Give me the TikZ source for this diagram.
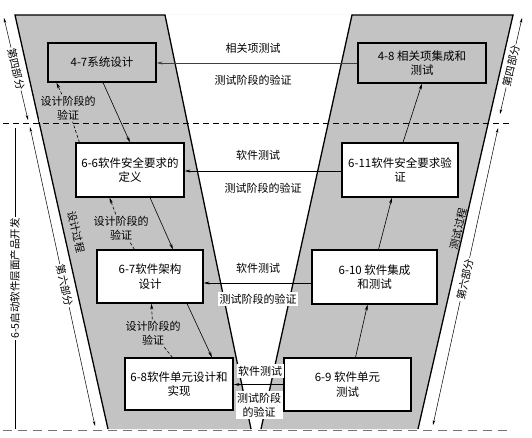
\documentclass[tikz,border=0pt]{standalone}
\usepackage{fontspec}
\setmainfont{Noto Sans CJK SC}
\usetikzlibrary{arrows.meta,calc}
\definecolor{vgray}{HTML}{C3C3C3}
\begin{document}
\begin{tikzpicture}[x=1pt,y=-1pt,
  box/.style={draw,line width=1.1pt,align=center,font=\fontsize{11.5}{14.5}\selectfont,inner sep=2pt},
  lbl/.style={align=center,font=\fontsize{11}{14}\selectfont,inner sep=1.5pt},
  slbl/.style={align=center,font=\fontsize{10.5}{12}\selectfont,inner sep=1pt},
  arr/.style={-{Stealth[length=6pt,width=3pt]},line width=0.6pt},
  varr/.style={arr,dash pattern=on 3pt off 2pt},
  vline/.style={line width=0.6pt,dash pattern=on 3pt off 2pt},
  dim/.style={{Stealth[length=5pt,width=2.5pt]}-{Stealth[length=5pt,width=2.5pt]},line width=0.5pt},
  vedge/.style={line width=1.3pt}]

\useasboundingbox (0,0) rectangle (532,438);
\fill[white] (0,0) rectangle (532,438);

% V shape
\fill[vgray] (15,15) -- (513,15) -- (418,429) -- (108,429) -- cycle;
\fill[white] (165,15) -- (352,15) -- (261,429) -- (251,429) -- cycle;
\draw[vedge] (108,429) -- (15,15) -- (165,15) -- (251,429);
\draw[vedge] (261,429) -- (352,15) -- (513,15) -- (418,429);

% boxes
\node[box,fill=vgray,minimum width=108pt,minimum height=39pt] (n47) at (102,62.5) {4-7系统设计};
\node[box,fill=vgray,minimum width=128pt,minimum height=40pt] (n48) at (422,63) {4-8 相关项集成和\\测试};
\node[box,fill=white,minimum width=108pt,minimum height=54pt] (n66) at (130,170) {6-6软件安全要求的\\定义};
\node[box,fill=white,minimum width=116pt,minimum height=54pt] (n611) at (400,170) {6-11软件安全要求验\\证};
\node[box,fill=white,minimum width=106pt,minimum height=53pt] (n67) at (150,276.5) {6-7软件架构\\设计};
\node[box,fill=white,minimum width=125pt,minimum height=54pt] (n610) at (374.5,277) {6-10 软件集成\\和测试};
\node[box,fill=white,minimum width=108pt,minimum height=52pt] (n68) at (179,384) {6-8软件单元设计和\\实现};
\node[box,fill=white,minimum width=127pt,minimum height=53pt] (n69) at (347.5,384.5) {6-9 软件单元\\测试};

% solid flow arrows
\draw[arr] ([xshift=1pt]n47.south) -- (n66.north);
\draw[arr] ([xshift=20pt]n66.south) -- ([xshift=23pt]n67.north);
\draw[arr] ([xshift=37pt]n67.south) -- ([xshift=33pt]n68.north);
\draw[arr] ([xshift=8pt]n69.north) -- ([xshift=-7pt]n610.south);
\draw[arr] ([xshift=4pt]n610.north) -- ([xshift=-8pt]n611.south);
\draw[arr] ([xshift=3pt]n611.north) -- (n48.south);

% design verification
\node[lbl,fill=vgray] (v1) at (68,108) {设计阶段的\\验证};
\node[lbl,fill=vgray] (v2) at (121,228) {设计阶段的\\验证};
\node[lbl,fill=vgray] (v3) at (153,333) {设计阶段的\\验证};
\draw[vline] ([xshift=4pt]n66.north west) -- (v1);
\draw[varr] (v1) -- ([xshift=9pt]n47.south west);
\draw[vline] ([xshift=38pt]n67.north west) -- (v2);
\draw[varr] (v2) -- ([xshift=34pt]n66.south west);
\draw[vline] ([xshift=48pt]n68.north west) -- (v3);
\draw[varr] (v3) -- ([xshift=55pt]n67.south west);

% test verification
\draw[arr,black!75] (n48.west) -- (n47.east |- n48.west);
\node[lbl] (l1a) at (253,48) {相关项测试};
\node[lbl] (l1b) at (253,80) {测试阶段的验证};
\draw[arr] ([yshift=-1pt]n611.west) coordinate (h2s) -- (n66.east |- h2s);
\node[lbl] (l2a) at (258,155) {软件测试};
\node[lbl] (l2b) at (263,188) {测试阶段的验证};
\coordinate (h3s) at ([yshift=-6pt]n610.west);
\draw[arr] (h3s) -- (n67.east |- h3s);
\node[lbl] (l3a) at (258,268) {软件测试};
\node[lbl,fill=white] (l3b) at (258,299) {测试阶段的验证};
\draw[arr] (n69.west) -- (n68.east |- n69.west);
\node[lbl,fill=white] (l4a) at (260,371) {软件测试};
\node[lbl,fill=white] (l4b) at (259,405) {测试阶段\\的验证};

% process labels
\node[slbl,rotate=-77] (p1) at (76,232) {设计过程};
\node[slbl,rotate=77] (p2) at (458,229) {测试过程};

% dimension lines
\coordinate (d1a) at (4,18); \coordinate (d1b) at (28,120);
\coordinate (d2a) at (30,127); \coordinate (d2b) at (95,426);
\coordinate (d3a) at (522,18); \coordinate (d3b) at (500,114);
\coordinate (d4a) at (498,128); \coordinate (d4b) at (433,425);
\draw[dim] (d1a) -- (d1b) node[slbl,pos=0.5,sloped,fill=white] (t1) {第四部分};
\draw[dim] (d2a) -- (d2b) node[slbl,pos=0.53,sloped,fill=white] (t2) {第六部分};
\draw[dim] (d3a) -- (d3b) node[slbl,pos=0.5,sloped,fill=white] (t3) {第四部分};
\draw[dim] (d4a) -- (d4b) node[slbl,pos=0.51,sloped,fill=white] (t4) {第六部分};

\coordinate (v5a) at (15,128); \coordinate (v5b) at (15,429);
\draw[line width=0.6pt] (v5a) -- (v5b) node[slbl,pos=0.5,rotate=90,fill=white] (t5) {6-5启动软件层面产品开发};

% dashed horizontal lines
\coordinate (dl1) at (3,123); \coordinate (dl2) at (509,123);
\draw[line width=0.6pt,dash pattern=on 6pt off 4pt] (dl1) -- (dl2);
\coordinate (dl3) at (3,430); \coordinate (dl4) at (509,430);
\draw[line width=0.9pt,black!55,dash pattern=on 9pt off 6pt] (dl3) -- (dl4);
\end{tikzpicture}
\end{document}
